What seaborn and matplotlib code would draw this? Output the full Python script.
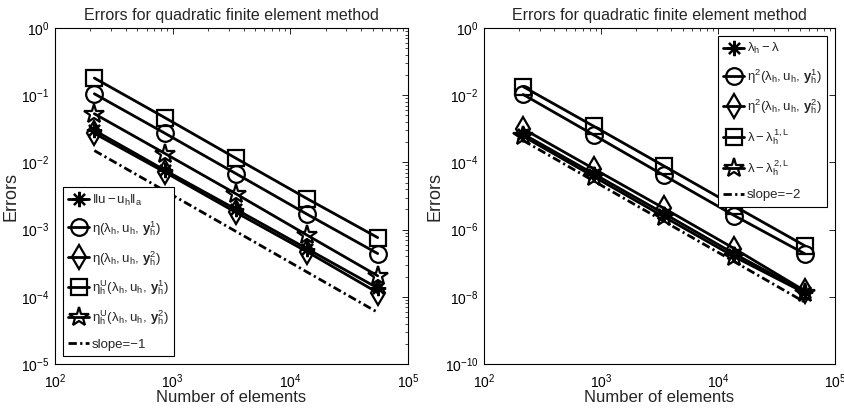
import numpy as np
import pandas as pd
import matplotlib
matplotlib.use("Agg")
import matplotlib.pyplot as plt
import seaborn as sns
from matplotlib.ticker import LogLocator, LogFormatterMathtext, NullFormatter, FixedLocator, NullLocator

sns.set_style("white")
plt.rcParams['font.family'] = ['Liberation Sans', 'DejaVu Sans']
plt.rcParams['mathtext.fontset'] = 'custom'
plt.rcParams['mathtext.rm'] = 'Liberation Sans'
plt.rcParams['mathtext.it'] = 'Liberation Sans'
plt.rcParams['mathtext.bf'] = 'Liberation Sans:bold'
plt.rcParams['mathtext.sf'] = 'Liberation Sans'

# ---------------- data ----------------
elements = [216, 864, 3456, 13824, 55296]

# left panel
err_energy = [0.030, 0.0076, 0.0020, 5.2e-4, 1.35e-4]
eta_y1 = [0.105, 0.027, 0.0068, 0.0017, 4.4e-4]
eta_y2 = [0.027, 0.0071, 0.0018, 4.7e-4, 1.15e-4]
etaU_y1 = [0.18, 0.046, 0.0115, 0.0029, 7.6e-4]
etaU_y2 = [0.053, 0.0135, 0.0034, 8.3e-4, 2.05e-4]
slope1_x = [216, 55296]
slope1_y = [0.015, 5.86e-5]

# right panel
lam_err = [7.0e-4, 4.6e-5, 3.0e-6, 1.9e-7, 1.4e-8]
eta2_y1 = [0.0105, 6.6e-4, 4.1e-5, 2.6e-6, 1.9e-7]
eta2_y2 = [1.0e-3, 6.5e-5, 4.3e-6, 2.7e-7, 1.5e-8]
lam_1L = [0.018, 1.2e-3, 7.8e-5, 5.0e-6, 3.3e-7]
lam_2L = [6.0e-4, 3.8e-5, 2.4e-6, 1.55e-7, 1.3e-8]
slope2_x = [216, 55296]
slope2_y = [4.5e-4, 6.9e-9]

left_labels = [r'$\|u-u_h\|_a$',
               r'$\eta(\lambda_h,u_h,\,\mathbf{y}_h^1)$',
               r'$\eta(\lambda_h,u_h,\,\mathbf{y}_h^2)$',
               r'$\eta_h^U(\lambda_h,u_h,\,\mathbf{y}_h^1)$',
               r'$\eta_h^U(\lambda_h,u_h,\,\mathbf{y}_h^2)$',
               'slope=\u22121']
right_labels = [r'$\lambda_h-\lambda$',
                r'$\eta^2(\lambda_h,u_h,\,\mathbf{y}_h^1)$',
                r'$\eta^2(\lambda_h,u_h,\,\mathbf{y}_h^2)$',
                r'$\lambda-\lambda_h^{1,L}$',
                r'$\lambda-\lambda_h^{2,L}$',
                'slope=\u22122']

markers = [(8, 2, 0), 'o', 'd', 's', '*']
msizes = [11, 12, 12, 11, 15]

fig = plt.figure(figsize=(8.45, 4.12), dpi=100)
W, H = 845, 412
axL = fig.add_axes([55 / W, 1 - 364 / H, (408 - 55) / W, (364 - 28) / H])
axR = fig.add_axes([484 / W, 1 - 364 / H, (835 - 484) / W, (364 - 28) / H])


def draw(ax, series, labels, sx, sy, ylim, ymajor):
    for i, ys in enumerate(series):
        df = pd.DataFrame({'x': elements, 'y': ys})
        sns.lineplot(data=df, x='x', y='y', ax=ax, color='black', lw=2,
                     marker=markers[i], markersize=msizes[i],
                     markerfacecolor='none', markeredgecolor='black',
                     markeredgewidth=1.6, label=labels[i])
    dfs = pd.DataFrame({'x': sx, 'y': sy})
    sns.lineplot(data=dfs, x='x', y='y', ax=ax, color='black', lw=2,
                 dashes=False, label=labels[-1])
    ax.lines[-1].set_dashes((3, 1.2, 0.8, 1.2))
    ax.set_xscale('log')
    ax.set_yscale('log')
    ax.set_xlim(1e2, 1e5)
    ax.set_ylim(*ylim)
    if ymajor == 1:
        ax.yaxis.set_major_locator(LogLocator(base=10, numticks=20))
        ax.yaxis.set_minor_locator(LogLocator(base=10, subs=np.arange(2, 10), numticks=20))
    else:
        ax.yaxis.set_major_locator(FixedLocator([10.0 ** k for k in range(-10, 1, 2)]))
        ax.yaxis.set_minor_locator(NullLocator())
    ax.yaxis.set_major_formatter(LogFormatterMathtext())
    ax.yaxis.set_minor_formatter(NullFormatter())
    ax.xaxis.set_major_locator(LogLocator(base=10, numticks=10))
    ax.xaxis.set_minor_locator(LogLocator(base=10, subs=np.arange(2, 10), numticks=10))
    ax.xaxis.set_major_formatter(LogFormatterMathtext())
    ax.xaxis.set_minor_formatter(NullFormatter())
    ax.tick_params(which='both', direction='in', top=True, right=True,
                   labelsize=10, colors='black')
    ax.tick_params(axis='x', which='both', pad=6)
    ax.tick_params(axis='y', which='both', pad=4)
    ax.tick_params(which='major', length=4, width=0.6)
    ax.tick_params(which='minor', length=2, width=0.5)
    ax.set_xlabel('Number of elements', fontsize=12, labelpad=-1)
    ax.set_ylabel('Errors', fontsize=13, labelpad=1)
    ax.set_title('Errors for quadratic finite element method', fontsize=11.5, pad=6)
    for sp in ax.spines.values():
        sp.set_color('black')
        sp.set_linewidth(0.8)


draw(axL, [err_energy, eta_y1, eta_y2, etaU_y1, etaU_y2], left_labels,
     slope1_x, slope1_y, (1e-5, 1e0), 1)
draw(axR, [lam_err, eta2_y1, eta2_y2, lam_1L, lam_2L], right_labels,
     slope2_x, slope2_y, (1e-10, 1e0), 2)

for ax, loc in [(axL, 'lower left'), (axR, 'upper right')]:
    leg = ax.legend(loc=loc, fontsize=9.5, frameon=True, fancybox=False,
                    edgecolor='black', handlelength=1.6, handletextpad=0.2,
                    borderpad=0.4, labelspacing=0.85, borderaxespad=0.6,
                    framealpha=1)
    leg.get_frame().set_linewidth(0.8)

fig.savefig('out.png', dpi=100)
